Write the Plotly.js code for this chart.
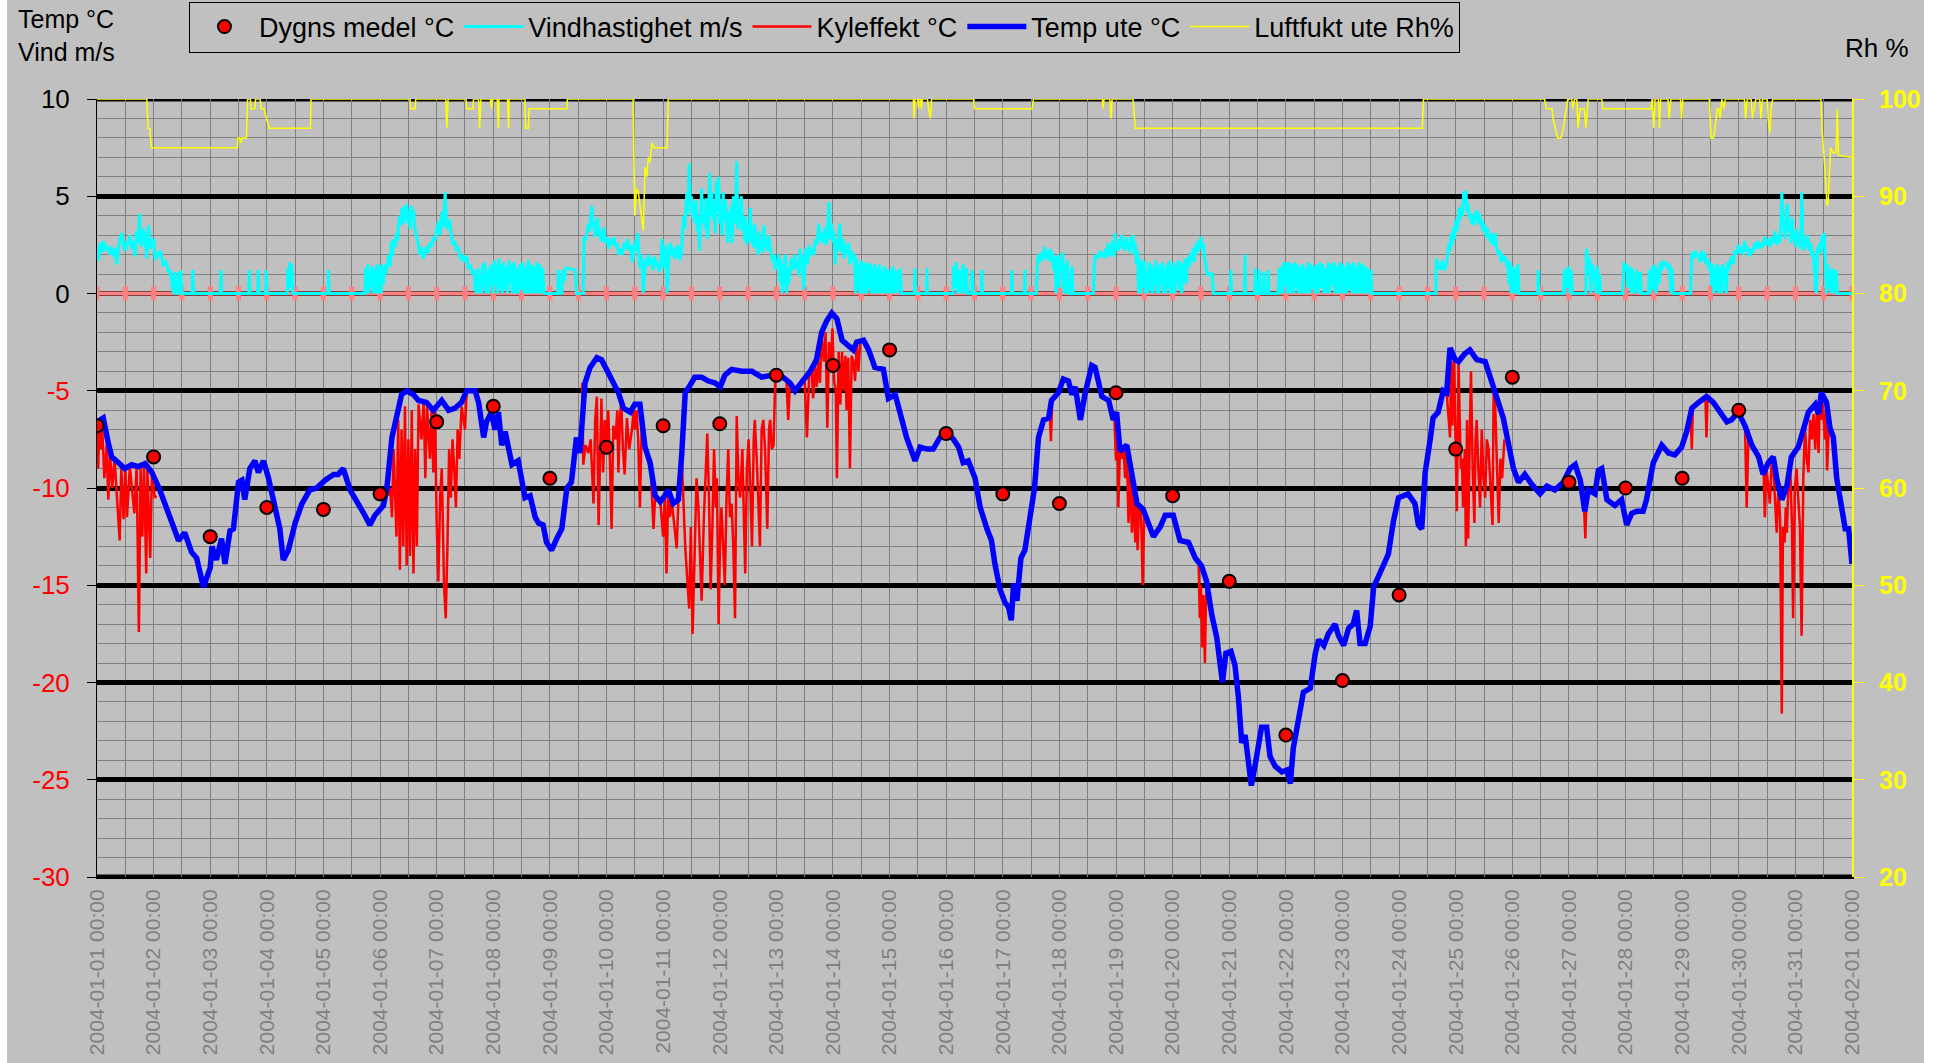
<!DOCTYPE html>
<html>
<head>
<meta charset="utf-8">
<script src="https://cdn.plot.ly/plotly-3.0.1.min.js"></script>
<style>
  html, body { margin: 0; padding: 0; background: #ffffff; }
  #chart { position: absolute; left: 7px; top: 0; width: 1917px; height: 1063px; }
</style>
</head>
<body>
<div id="chart"></div>
<script>
// ---- Data (x values are day offsets from 2004-01-01 00:00) ----
const startDate = '2004-01-01';

// Daily mean temperature, one value per day at 00:00 (Jan 1 .. Jan 30)
const dailyMean = [-6.8, -8.4, -12.5, -11.0, -11.1, -10.3, -6.6, -5.8, -9.5, -7.9,
                   -6.8, -6.7, -4.2, -3.7, -2.9, -7.2, -10.3, -10.8, -5.1, -10.4,
                   -14.8, -22.7, -19.9, -15.5, -8.0, -4.3, -9.7, -10.0, -9.5, -6.0];

// Temp ute °C  [day, value]
const tempPts = [
[0.00,-6.6],[0.11,-6.4],[0.20,-7.7],[0.26,-8.4],[0.38,-8.7],[0.49,-9.0],[0.61,-8.8],[0.73,-8.9],[0.85,-8.75],[0.97,-9.2],
[1.11,-10.1],[1.23,-11.0],[1.35,-12.0],[1.44,-12.7],[1.55,-12.3],[1.67,-13.3],[1.76,-13.6],[1.88,-15.1],[2.00,-14.1],[2.03,-13.0],
[2.11,-13.7],[2.20,-12.6],[2.26,-13.9],[2.35,-12.2],[2.41,-12.1],[2.50,-9.7],[2.56,-9.6],[2.61,-10.6],[2.70,-9.0],[2.79,-8.6],
[2.85,-9.2],[2.94,-8.6],[3.03,-9.5],[3.14,-10.8],[3.23,-12.1],[3.29,-13.7],[3.38,-13.2],[3.50,-11.8],[3.62,-10.8],[3.76,-10.1],
[3.88,-10.0],[4.03,-9.6],[4.18,-9.3],[4.26,-9.3],[4.35,-9.0],[4.47,-10.1],[4.62,-10.8],[4.73,-11.4],[4.82,-11.9],[4.91,-11.4],
[5.06,-10.9],[5.12,-10.0],[5.21,-7.4],[5.29,-6.4],[5.38,-5.2],[5.47,-5.0],[5.59,-5.2],[5.68,-5.5],[5.82,-5.6],[5.94,-6.0],
[6.09,-5.5],[6.21,-6.0],[6.32,-5.9],[6.44,-5.6],[6.53,-5.0],[6.68,-5.0],[6.74,-5.6],[6.83,-7.4],[6.88,-6.6],[6.97,-6.1],
[7.03,-7.0],[7.09,-6.1],[7.15,-7.8],[7.21,-7.1],[7.33,-8.8],[7.44,-8.6],[7.56,-10.5],[7.65,-10.4],[7.74,-11.5],[7.80,-11.8],
[7.88,-11.9],[7.94,-12.8],[8.03,-13.2],[8.12,-12.6],[8.21,-12.1],[8.30,-10.0],[8.38,-9.7],[8.47,-7.4],[8.53,-8.2],[8.62,-4.6],
[8.71,-3.8],[8.83,-3.3],[8.91,-3.4],[9.00,-3.9],[9.12,-4.6],[9.21,-5.1],[9.30,-5.9],[9.42,-6.1],[9.50,-5.7],[9.59,-5.7],
[9.68,-7.9],[9.77,-8.7],[9.86,-10.4],[9.95,-10.7],[10.03,-10.4],[10.09,-10.1],[10.18,-10.8],[10.27,-10.6],[10.33,-8.2],[10.39,-5.1],
[10.48,-4.7],[10.56,-4.3],[10.68,-4.3],[10.80,-4.5],[10.92,-4.6],[11.01,-4.8],[11.09,-4.2],[11.21,-3.9],[11.39,-4.0],[11.57,-4.0],
[11.74,-4.3],[11.92,-4.2],[12.07,-4.2],[12.24,-4.6],[12.33,-5.0],[12.45,-4.6],[12.60,-4.0],[12.71,-3.4],[12.80,-2.0],[12.89,-1.4],
[12.98,-1.0],[13.07,-1.3],[13.16,-2.4],[13.24,-2.6],[13.36,-2.9],[13.42,-2.5],[13.54,-2.4],[13.63,-2.9],[13.74,-3.8],[13.89,-3.9],
[13.98,-5.4],[14.10,-5.2],[14.22,-6.4],[14.30,-7.4],[14.45,-8.6],[14.54,-7.9],[14.66,-8.0],[14.77,-8.0],[14.89,-7.4],[15.01,-7.1],
[15.13,-7.5],[15.22,-7.9],[15.30,-8.7],[15.39,-8.6],[15.51,-9.5],[15.60,-11.0],[15.72,-12.1],[15.80,-12.7],[15.86,-13.9],[15.95,-15.2],
[16.04,-15.9],[16.10,-16.1],[16.15,-16.8],[16.19,-14.9],[16.25,-15.8],[16.32,-13.6],[16.39,-13.2],[16.48,-11.3],[16.56,-10.0],[16.63,-7.4],
[16.72,-6.5],[16.81,-6.4],[16.86,-5.5],[16.98,-5.1],[17.07,-4.4],[17.16,-4.5],[17.22,-5.2],[17.28,-4.8],[17.37,-6.5],[17.45,-5.2],
[17.57,-3.7],[17.63,-3.8],[17.75,-5.3],[17.87,-5.5],[17.95,-6.5],[18.01,-6.1],[18.07,-8.1],[18.19,-7.8],[18.28,-9.3],[18.37,-10.8],
[18.48,-11.1],[18.57,-11.9],[18.66,-12.5],[18.78,-12.0],[18.87,-11.4],[19.01,-11.4],[19.13,-12.7],[19.28,-12.8],[19.40,-13.6],[19.51,-14.0],
[19.60,-14.8],[19.69,-16.5],[19.78,-17.7],[19.88,-20.0],[19.94,-18.5],[20.03,-18.4],[20.10,-19.1],[20.16,-20.7],[20.22,-23.1],[20.28,-22.7],
[20.39,-25.3],[20.46,-24.2],[20.57,-22.3],[20.66,-22.3],[20.72,-23.8],[20.81,-24.3],[20.93,-24.6],[21.02,-24.5],[21.08,-25.2],[21.13,-23.4],
[21.19,-22.4],[21.31,-20.5],[21.43,-20.3],[21.52,-18.5],[21.58,-17.8],[21.67,-18.1],[21.75,-17.5],[21.87,-17.0],[21.93,-17.6],[22.02,-18.1],
[22.11,-17.2],[22.19,-17.0],[22.25,-16.3],[22.31,-18.0],[22.40,-18.0],[22.49,-17.1],[22.55,-15.1],[22.67,-14.4],[22.75,-13.8],[22.81,-13.4],
[22.90,-11.7],[22.99,-10.5],[23.08,-10.4],[23.16,-10.3],[23.28,-10.8],[23.34,-11.9],[23.40,-12.1],[23.46,-9.2],[23.55,-7.5],[23.60,-6.4],
[23.69,-6.1],[23.78,-5.0],[23.84,-5.1],[23.90,-2.8],[23.99,-3.4],[24.05,-3.5],[24.16,-3.1],[24.25,-2.9],[24.37,-3.4],[24.52,-3.5],
[24.61,-4.3],[24.72,-5.3],[24.84,-6.4],[24.93,-7.7],[25.02,-9.0],[25.11,-9.7],[25.22,-9.3],[25.34,-9.8],[25.49,-10.3],[25.61,-9.9],
[25.75,-10.1],[25.90,-9.7],[26.02,-9.0],[26.11,-8.8],[26.20,-9.6],[26.28,-11.2],[26.34,-10.1],[26.46,-10.3],[26.52,-9.1],[26.58,-9.0],
[26.67,-10.6],[26.81,-10.9],[26.93,-10.6],[27.02,-11.9],[27.11,-11.3],[27.20,-11.2],[27.31,-11.2],[27.37,-10.6],[27.49,-8.7],[27.64,-7.8],
[27.76,-8.2],[27.87,-8.3],[27.99,-7.9],[28.08,-7.1],[28.17,-5.9],[28.29,-5.6],[28.43,-5.3],[28.55,-5.6],[28.67,-6.1],[28.79,-6.6],
[28.87,-6.5],[28.99,-6.1],[29.11,-6.8],[29.23,-7.8],[29.35,-8.4],[29.43,-9.3],[29.52,-8.7],[29.61,-8.4],[29.67,-9.5],[29.76,-10.6],
[29.85,-9.9],[29.93,-8.4],[30.05,-7.9],[30.14,-6.9],[30.23,-6.1],[30.35,-5.7],[30.41,-6.2],[30.46,-5.1],[30.55,-5.6],[30.61,-6.9],
[30.67,-7.4],[30.73,-9.5],[30.82,-11.0],[30.88,-12.1],[30.94,-12.1],[31.00,-13.9]
];

// Kyleffekt °C (wind chill) [day, value]; null separates windy stretches
const chillPts = [
[0.00,-6.6],[0.02,-9.0],[0.04,-7.0],[0.07,-8.0],[0.09,-6.8],[0.13,-9.5],[0.17,-7.8],[0.20,-10.6],[0.23,-8.2],[0.27,-10.0],
[0.31,-8.5],[0.40,-12.7],[0.43,-9.0],[0.47,-11.6],[0.50,-9.0],[0.53,-11.5],[0.58,-8.9],[0.66,-11.3],[0.70,-8.9],[0.74,-17.4],
[0.77,-9.0],[0.80,-12.5],[0.83,-8.8],[0.87,-14.4],[0.89,-9.0],[0.94,-13.6],[0.97,-9.3],[1.02,-10.5],[1.05,-10.4],[1.06,null],
[5.15,-10.4],[5.18,-10.0],[5.21,-11.5],[5.24,-8.0],[5.29,-12.5],[5.32,-6.5],[5.35,-14.2],[5.38,-7.0],[5.41,-13.0],[5.44,-5.8],
[5.47,-14.0],[5.50,-7.5],[5.53,-13.5],[5.56,-6.0],[5.59,-14.4],[5.62,-8.0],[5.65,-13.0],[5.68,-5.7],[5.73,-7.5],[5.77,-5.6],
[5.80,-9.5],[5.83,-5.8],[5.88,-8.5],[5.91,-6.0],[5.94,-9.2],[5.97,-6.0],[6.00,-11.8],[6.03,-14.8],[6.06,-10.5],[6.09,-9.0],
[6.13,-15.0],[6.16,-16.7],[6.19,-13.0],[6.22,-8.0],[6.25,-10.5],[6.28,-7.5],[6.31,-9.0],[6.34,-11.0],[6.37,-7.0],[6.40,-8.5],
[6.44,-5.8],[6.50,-7.0],[6.53,-5.0],[6.54,null],
[8.57,-4.6],[8.59,-8.8],[8.63,-7.8],[8.68,-8.2],[8.72,-7.5],[8.77,-10.8],[8.80,-6.5],[8.83,-5.3],[8.86,-11.9],[8.89,-7.0],
[8.91,-5.4],[8.94,-9.2],[8.97,-6.5],[9.00,-7.8],[9.03,-6.0],[9.06,-8.5],[9.09,-12.1],[9.12,-6.8],[9.16,-7.5],[9.19,-6.0],
[9.21,-9.2],[9.24,-6.2],[9.26,-5.6],[9.29,-8.0],[9.32,-9.3],[9.36,-6.4],[9.40,-8.0],[9.45,-7.0],[9.48,-6.0],[9.50,-7.0],
[9.53,-6.0],[9.56,-7.5],[9.59,-11.0],[9.62,-7.0],[9.65,-7.5],[9.70,-8.2],[9.74,-8.7],[9.78,-9.0],[9.83,-12.1],[9.86,-10.4],
[9.95,-10.7],[10.00,-12.5],[10.03,-10.4],[10.06,-14.4],[10.09,-10.2],[10.12,-11.5],[10.15,-10.6],[10.20,-12.0],[10.24,-13.1],[10.27,-10.6],
[10.30,-9.0],[10.33,-8.5],[10.36,-11.0],[10.39,-13.0],[10.42,-14.4],[10.46,-16.2],[10.49,-12.0],[10.52,-17.5],[10.56,-13.0],[10.59,-9.5],
[10.62,-10.8],[10.65,-13.0],[10.68,-15.8],[10.72,-11.5],[10.75,-9.0],[10.78,-7.2],[10.81,-10.5],[10.84,-15.2],[10.87,-12.0],[10.90,-8.0],
[10.93,-11.0],[10.95,-9.5],[10.98,-17.0],[11.01,-12.0],[11.03,-11.0],[11.06,-13.5],[11.09,-15.0],[11.12,-10.5],[11.15,-8.0],[11.18,-11.5],
[11.21,-10.8],[11.24,-13.0],[11.27,-16.7],[11.30,-6.3],[11.33,-9.5],[11.36,-10.5],[11.40,-8.0],[11.43,-12.0],[11.45,-14.4],[11.48,-9.0],
[11.51,-7.5],[11.54,-10.0],[11.57,-13.0],[11.60,-7.5],[11.62,-6.5],[11.66,-9.0],[11.71,-13.0],[11.74,-7.0],[11.77,-6.5],[11.80,-8.0],
[11.84,-12.1],[11.87,-7.0],[11.89,-6.5],[11.92,-8.0],[11.95,-7.8],[11.98,-4.5],[11.99,null],
[12.18,-4.5],[12.21,-6.5],[12.24,-4.6],[12.25,null],
[12.50,-4.4],[12.54,-7.4],[12.58,-4.2],[12.62,-3.8],[12.65,-5.4],[12.68,-3.7],[12.71,-4.8],[12.74,-3.5],[12.77,-4.6],[12.80,-2.1],
[12.84,-3.5],[12.87,-2.0],[12.90,-6.9],[12.93,-2.5],[12.96,-4.0],[12.99,-1.8],[13.02,-4.5],[13.05,-5.0],[13.07,-9.5],[13.10,-3.0],
[13.13,-5.7],[13.16,-3.0],[13.19,-5.0],[13.22,-3.2],[13.24,-6.0],[13.27,-3.3],[13.30,-9.0],[13.33,-3.2],[13.36,-3.5],[13.39,-4.5],
[13.42,-2.6],[13.45,-4.0],[13.48,-2.6],[13.49,null],
[16.83,-6.1],[16.85,-7.6],[16.87,-5.8],[16.88,null],
[17.97,-6.3],[18.00,-8.6],[18.03,-7.5],[18.04,-11.0],[18.07,-8.0],[18.10,-8.5],[18.13,-7.8],[18.16,-9.5],[18.19,-8.0],[18.22,-11.8],
[18.25,-9.0],[18.28,-12.3],[18.31,-10.0],[18.34,-12.8],[18.36,-10.5],[18.38,-13.2],[18.41,-10.8],[18.44,-11.0],[18.47,-15.0],[18.50,-11.2],[18.51,null],
[19.46,-14.0],[19.48,-16.7],[19.50,-15.0],[19.52,-18.2],[19.54,-15.5],[19.57,-19.0],[19.59,-15.5],[19.61,-15.0],[19.62,null],
[23.84,-5.1],[23.88,-6.5],[23.90,-7.4],[23.92,-3.5],[23.94,-6.8],[23.97,-3.4],[24.00,-8.0],[24.02,-11.2],[24.05,-3.5],[24.07,-6.0],
[24.09,-9.0],[24.11,-8.5],[24.13,-11.0],[24.16,-8.0],[24.18,-13.0],[24.20,-6.5],[24.22,-12.6],[24.25,-7.0],[24.27,-4.0],[24.30,-9.0],
[24.33,-11.8],[24.35,-7.5],[24.37,-6.5],[24.40,-9.0],[24.43,-11.0],[24.46,-7.0],[24.49,-9.5],[24.52,-10.5],[24.55,-7.5],[24.58,-8.0],
[24.61,-10.0],[24.65,-11.9],[24.67,-5.0],[24.69,-5.0],[24.72,-8.0],[24.76,-11.8],[24.79,-8.5],[24.82,-9.5],[24.86,-7.5],[24.87,null],
[26.27,-11.2],[26.29,-12.6],[26.31,-10.5],[26.32,null],
[28.15,-6.2],[28.17,-8.0],[28.19,-5.8],[28.20,null],
[28.41,-5.3],[28.43,-7.4],[28.45,-5.3],[28.46,null],
[29.11,-6.8],[29.14,-11.0],[29.17,-7.3],[29.18,null],
[29.44,-9.2],[29.46,-11.5],[29.49,-9.0],[29.55,-10.8],[29.58,-8.6],[29.62,-9.5],[29.67,-12.3],[29.70,-10.0],[29.73,-11.5],[29.76,-21.6],
[29.78,-12.0],[29.81,-12.8],[29.83,-11.0],[29.85,-12.3],[29.88,-9.5],[29.91,-9.0],[29.94,-12.0],[29.96,-16.7],[29.99,-10.0],[30.02,-9.0],
[30.05,-10.5],[30.08,-12.0],[30.11,-17.6],[30.14,-9.5],[30.17,-6.8],[30.20,-8.5],[30.23,-9.2],[30.26,-6.5],[30.29,-7.5],[30.32,-6.2],
[30.35,-8.0],[30.38,-6.0],[30.41,-8.2],[30.43,-5.6],[30.45,-6.5],[30.48,-5.6],[30.52,-7.5],[30.54,-6.0],[30.56,-9.1],[30.59,-6.9]
];

// Vindhastighet m/s [day, value]
const windPts = [
[0,2.4],[0.03,1.7],[0.05,2.6],[0.08,2.1],[0.11,2.7],[0.14,2.2],[0.17,2.5],[0.2,2.3],[0.23,2.0],[0.26,2.4],[0.29,1.9],[0.32,2.3],
[0.35,1.5],[0.38,2.4],[0.41,2.9],[0.44,3.1],[0.47,2.4],[0.5,2.2],[0.53,2.7],[0.55,2.5],[0.58,3.0],[0.61,2.3],[0.64,2.7],[0.67,1.9],
[0.7,3.2],[0.73,2.6],[0.75,4.1],[0.77,2.8],[0.79,2.4],[0.82,3.3],[0.85,2.9],[0.88,1.8],[0.91,3.5],[0.94,2.3],[0.97,2.7],[1.0,2.8],
[1.03,1.7],[1.06,2.1],[1.08,1.9],[1.11,2.2],[1.14,2.0],[1.17,1.4],[1.2,1.7],[1.23,1.5],[1.26,1.1],[1.29,1.2],[1.32,0.6],[1.35,0],
[1.37,1.1],[1.39,0],[1.42,0],[1.44,1.1],[1.46,0],[1.48,1.2],[1.5,0],[1.68,0],[1.69,1.2],[1.71,0],[2.18,0],[2.19,1.2],[2.2,0],
[2.68,0],[2.69,1.2],[2.7,0],[2.84,0],[2.85,1.2],[2.86,0],[2.98,0],[2.99,1.2],[3.0,0],[3.36,0],[3.37,1.3],[3.38,0.2],[3.41,1.6],
[3.43,0.3],[3.44,1.5],[3.46,0],[4.08,0],[4.09,1.2],[4.1,0],[4.73,0],[4.74,1.3],[4.76,0],[4.78,1.5],[4.8,0],[4.82,1.2],[4.84,0.3],
[4.86,1.4],[4.88,0],[4.9,1.3],[4.92,0],[4.95,1.5],[4.97,0],[5.0,1.4],[5.02,0],[5.04,1.5],[5.06,0.5],[5.08,1.5],[5.1,1.0],[5.13,1.6],
[5.16,2.0],[5.18,1.4],[5.2,2.7],[5.22,1.9],[5.24,2.8],[5.27,2.4],[5.29,3.1],[5.31,2.7],[5.33,3.7],[5.35,4.0],[5.37,3.5],[5.39,4.4],
[5.41,3.6],[5.43,4.5],[5.45,3.8],[5.47,4.6],[5.49,3.6],[5.51,4.2],[5.53,3.3],[5.55,4.5],[5.57,3.9],[5.59,4.3],[5.61,3.5],[5.64,3.0],
[5.67,2.6],[5.7,2.0],[5.73,2.4],[5.76,1.8],[5.79,2.0],[5.82,2.4],[5.85,2.1],[5.88,2.6],[5.91,2.4],[5.94,2.9],[5.97,2.7],[6.0,3.3],
[6.03,3.7],[6.06,3.0],[6.09,4.2],[6.12,3.4],[6.15,5.2],[6.17,3.6],[6.2,3.3],[6.23,3.8],[6.26,2.9],[6.29,2.5],[6.32,2.7],[6.35,2.2],
[6.38,2.4],[6.41,1.9],[6.44,1.7],[6.47,2.0],[6.5,1.6],[6.53,1.9],[6.56,1.3],[6.6,1.4],[6.63,1.0],[6.66,1.2],[6.68,0.2],[6.71,0],
[6.73,1.3],[6.75,0],[6.77,1.0],[6.79,0],[6.81,1.5],[6.83,0.3],[6.85,1.6],[6.87,0],[6.9,1.2],[6.92,0],[6.94,1.4],[6.96,0.5],
[6.98,1.5],[7.0,0],[7.02,1.7],[7.04,0.4],[7.06,1.5],[7.08,0],[7.1,1.8],[7.12,0.3],[7.14,1.5],[7.16,0],[7.18,1.6],[7.2,0.2],
[7.23,1.4],[7.25,0],[7.28,1.7],[7.3,0.5],[7.32,1.5],[7.34,0],[7.37,1.6],[7.39,0],[7.42,1.3],[7.44,0],[7.47,1.5],[7.49,0.2],
[7.52,1.6],[7.54,0],[7.57,1.4],[7.59,0],[7.62,1.7],[7.64,0],[7.67,1.5],[7.69,0],[7.72,1.4],[7.74,0],[7.77,1.6],[7.79,0],
[7.82,1.5],[7.84,0],[7.87,1.3],[7.9,0],[8.14,0],[8.15,1.2],[8.16,0],[8.21,0],[8.22,1.2],[8.25,0.6],[8.28,1.3],[8.32,1.3],
[8.45,1.2],[8.47,0],[8.59,0],[8.6,2.9],[8.62,2.7],[8.65,3.0],[8.68,3.6],[8.7,3.2],[8.72,3.8],[8.74,4.5],[8.76,3.4],[8.78,3.7],
[8.8,2.9],[8.82,3.5],[8.84,3.9],[8.86,3.0],[8.88,3.3],[8.9,2.8],[8.92,2.7],[8.95,3.4],[8.98,2.6],[9.01,2.9],[9.04,2.3],[9.07,2.8],
[9.1,2.5],[9.13,2.9],[9.16,2.4],[9.19,2.6],[9.22,2.0],[9.25,2.3],[9.28,2.0],[9.31,2.6],[9.34,2.3],[9.37,2.8],[9.4,2.2],[9.43,2.5],
[9.46,1.6],[9.48,2.0],[9.5,2.7],[9.52,2.2],[9.55,3.1],[9.57,2.2],[9.59,1.3],[9.61,2.0],[9.63,1.6],[9.65,0],[9.67,1.0],[9.7,1.8],
[9.72,1.4],[9.75,2.0],[9.77,1.5],[9.8,1.8],[9.82,1.2],[9.85,1.9],[9.88,1.4],[9.9,1.6],[9.93,1.1],[9.96,1.5],[9.98,2.8],[10.0,1.6],
[10.02,1.3],[10.05,2.5],[10.07,0],[10.1,1.8],[10.13,2.6],[10.15,2.0],[10.18,2.4],[10.2,1.8],[10.23,1.9],[10.26,2.5],[10.29,1.7],
[10.32,2.0],[10.34,3.3],[10.36,4.0],[10.38,3.3],[10.4,4.6],[10.42,5.2],[10.44,4.1],[10.46,6.7],[10.48,4.5],[10.5,5.0],[10.52,3.9],
[10.54,4.6],[10.56,3.6],[10.58,4.8],[10.6,3.2],[10.62,4.0],[10.64,2.2],[10.66,3.5],[10.68,5.4],[10.7,3.6],[10.72,4.2],[10.74,3.3],
[10.76,4.9],[10.78,2.8],[10.8,3.5],[10.82,6.2],[10.84,4.0],[10.86,5.2],[10.88,3.8],[10.9,4.6],[10.92,3.1],[10.94,5.8],[10.96,4.2],
[10.98,6.0],[11.0,3.6],[11.02,4.5],[11.04,3.0],[11.06,5.2],[11.08,3.8],[11.1,4.8],[11.12,3.4],[11.14,2.6],[11.16,4.2],[11.18,3.1],
[11.2,4.5],[11.22,2.6],[11.24,5.0],[11.26,3.6],[11.28,4.2],[11.3,6.8],[11.32,3.3],[11.34,4.6],[11.36,3.5],[11.38,5.0],[11.4,3.2],
[11.42,4.0],[11.44,2.7],[11.46,3.9],[11.48,2.5],[11.5,3.5],[11.52,2.7],[11.54,4.4],[11.56,2.6],[11.58,3.4],[11.6,2.4],[11.62,3.6],
[11.64,2.3],[11.66,3.0],[11.68,2.0],[11.7,3.2],[11.72,2.2],[11.74,2.8],[11.76,2.1],[11.78,3.5],[11.8,2.4],[11.82,2.8],[11.84,2.2],
[11.86,3.0],[11.88,2.6],[11.9,2.2],[11.92,2.0],[11.94,1.6],[11.96,2.0],[11.98,1.2],[12.0,1.7],[12.02,1.4],[12.04,2.0],[12.06,0.6],
[12.08,1.8],[12.1,0],[12.12,1.5],[12.14,0.4],[12.16,2.0],[12.18,0],[12.2,1.3],[12.22,0.5],[12.25,1.5],[12.27,1.8],[12.3,1.2],
[12.33,2.0],[12.35,1.3],[12.38,1.6],[12.4,0.9],[12.42,2.3],[12.44,1.6],[12.46,2.0],[12.48,0.2],[12.5,1.7],[12.52,2.3],[12.55,1.5],
[12.58,2.5],[12.6,1.9],[12.63,2.3],[12.66,2.0],[12.69,2.8],[12.72,2.5],[12.75,3.6],[12.78,2.7],[12.8,3.1],[12.83,2.6],[12.86,3.4],
[12.88,2.5],[12.9,3.1],[12.93,4.7],[12.95,2.8],[12.97,3.6],[13.0,2.6],[13.02,3.2],[13.04,1.5],[13.06,2.8],[13.09,2.2],[13.12,3.6],
[13.15,2.1],[13.18,2.8],[13.2,1.8],[13.23,2.5],[13.26,2.0],[13.28,2.6],[13.3,1.5],[13.33,2.2],[13.36,1.7],[13.38,2.0],[13.4,0],
[13.42,1.8],[13.44,0.2],[13.46,1.5],[13.48,0],[13.5,1.7],[13.52,0],[13.54,1.6],[13.56,0],[13.58,1.5],[13.6,0],[13.62,1.6],
[13.64,0.3],[13.66,1.5],[13.68,0],[13.7,1.4],[13.72,0],[13.74,1.5],[13.76,0],[13.78,1.3],[13.8,0],[13.82,1.5],[13.84,0],
[13.86,1.2],[13.88,0],[13.9,1.4],[13.92,0],[13.95,1.3],[13.97,0],[14.0,1.2],[14.02,0],[14.06,1.4],[14.08,0],[14.12,1.2],[14.14,0],
[14.19,1.3],[14.21,0],[14.44,0],[14.45,1.3],[14.46,0],[14.65,0],[14.66,1.3],[14.67,0],[15.12,0],[15.13,1.4],[15.15,0.3],[15.18,1.6],
[15.2,0],[15.24,1.2],[15.26,0],[15.3,1.5],[15.32,0],[15.36,1.3],[15.38,0],[15.45,0],[15.46,1.2],[15.48,0],[15.62,0],[15.63,1.2],
[15.64,0],[16.15,0],[16.16,1.2],[16.17,0],[16.38,0],[16.39,1.2],[16.4,0],[16.59,0],[16.61,1.5],[16.63,2.0],[16.65,1.6],[16.67,2.1],
[16.7,1.7],[16.72,2.0],[16.74,2.4],[16.76,1.8],[16.78,2.2],[16.8,1.7],[16.82,2.0],[16.84,2.3],[16.86,1.6],[16.88,2.1],[16.9,1.2],
[16.92,1.9],[16.94,0],[16.96,1.5],[16.98,2.0],[17.0,0.3],[17.02,1.8],[17.04,1.2],[17.06,2.1],[17.08,0],[17.1,1.5],[17.12,0],
[17.14,1.7],[17.16,0],[17.2,0],[17.22,1.4],[17.24,0],[17.6,0],[17.62,1.6],[17.64,2.0],[17.66,1.8],[17.69,1.9],[17.72,2.2],
[17.75,1.9],[17.78,2.1],[17.8,1.8],[17.82,2.3],[17.84,2.0],[17.86,2.6],[17.88,1.9],[17.9,2.5],[17.92,2.0],[17.94,2.7],[17.96,1.9],
[17.98,3.1],[18.0,2.2],[18.02,2.6],[18.04,2.2],[18.06,2.8],[18.08,2.4],[18.1,3.0],[18.12,2.3],[18.14,2.7],[18.16,2.2],[18.18,2.9],
[18.2,2.3],[18.22,2.6],[18.24,2.1],[18.26,2.9],[18.28,2.3],[18.3,3.0],[18.32,2.0],[18.34,2.6],[18.36,1.5],[18.38,2.2],[18.4,0],
[18.42,1.8],[18.44,0],[18.46,1.6],[18.48,0.3],[18.5,1.7],[18.52,0],[18.54,1.2],[18.56,0],[18.58,1.6],[18.6,0.2],[18.62,1.5],
[18.64,0],[18.66,1.3],[18.68,0.4],[18.7,1.7],[18.72,0],[18.74,1.4],[18.76,0],[18.78,1.5],[18.8,0.5],[18.82,1.6],[18.84,0],
[18.86,1.3],[18.88,0],[18.9,1.5],[18.92,0.3],[18.94,1.7],[18.96,0],[18.98,1.4],[19.0,0],[19.02,1.6],[19.04,0],[19.06,1.4],
[19.08,0.5],[19.1,1.7],[19.12,0.2],[19.14,1.6],[19.16,0],[19.18,1.5],[19.2,0.6],[19.22,1.8],[19.24,0.5],[19.26,1.5],[19.28,1.9],
[19.3,1.4],[19.32,2.1],[19.34,1.7],[19.36,2.3],[19.38,1.6],[19.4,2.5],[19.42,2.0],[19.44,2.7],[19.46,2.2],[19.48,2.6],[19.5,2.9],
[19.52,2.3],[19.54,2.6],[19.56,1.9],[19.58,1.5],[19.6,1.2],[19.62,0.9],[19.64,1.0],[19.7,1.0],[19.72,0],[20.02,0],[20.03,1.2],
[20.04,0],[20.27,0],[20.28,2.0],[20.29,0],[20.45,0],[20.46,1.3],[20.48,0],[20.52,0],[20.53,1.2],[20.55,0],[20.6,0],[20.61,1.1],
[20.63,0],[20.68,0],[20.69,1.2],[20.7,0],[20.86,0],[20.88,1.3],[20.9,0],[20.92,1.4],[20.94,0],[20.96,1.6],[20.98,0.4],[21.0,1.6],
[21.02,0],[21.04,1.2],[21.06,1.6],[21.08,0],[21.1,1.5],[21.12,1.2],[21.14,0],[21.16,1.6],[21.18,0.3],[21.2,1.5],[21.22,0],
[21.24,1.4],[21.26,1.2],[21.28,0],[21.3,1.5],[21.32,0],[21.35,1.3],[21.37,0],[21.4,1.6],[21.42,0],[21.45,1.5],[21.47,0.2],
[21.5,1.4],[21.52,0],[21.55,1.5],[21.57,0],[21.6,1.6],[21.62,0.3],[21.65,1.5],[21.67,0],[21.7,1.3],[21.72,0],[21.75,1.6],
[21.77,0],[21.8,1.5],[21.82,0.4],[21.85,1.6],[21.87,0],[21.9,1.4],[21.92,0],[21.95,1.6],[21.97,0],[22.0,1.5],[22.02,0],
[22.05,1.4],[22.07,0],[22.1,1.6],[22.12,0.2],[22.15,1.5],[22.17,0],[22.2,1.6],[22.22,0],[22.25,1.4],[22.27,0],[22.3,1.6],
[22.32,0],[22.35,1.5],[22.37,0],[22.4,1.4],[22.42,0],[22.45,1.3],[22.47,0],[22.5,1.2],[22.52,0],[23.65,0],[23.66,1.8],[23.7,1.3],
[23.74,1.3],[23.76,1.7],[23.8,1.2],[23.84,1.6],[23.86,2.0],[23.88,2.6],[23.9,2.2],[23.92,3.1],[23.94,2.5],[23.96,3.4],[23.98,2.8],
[24.0,3.8],[24.02,3.2],[24.04,3.6],[24.06,4.4],[24.08,3.8],[24.1,4.5],[24.12,4.0],[24.14,5.2],[24.16,4.6],[24.18,5.3],[24.2,4.2],
[24.22,4.6],[24.24,3.9],[24.26,4.1],[24.28,3.6],[24.3,4.0],[24.32,3.5],[24.34,4.2],[24.36,3.7],[24.38,4.3],[24.4,3.6],[24.42,4.1],
[24.44,3.5],[24.46,3.8],[24.48,3.2],[24.5,3.6],[24.52,3.1],[24.54,2.9],[24.56,3.4],[24.58,2.8],[24.6,3.0],[24.62,2.6],[24.64,3.1],
[24.66,2.5],[24.68,2.6],[24.7,3.1],[24.72,2.4],[24.75,2.0],[24.78,2.2],[24.8,1.6],[24.82,2.0],[24.85,1.7],[24.88,1.9],[24.9,1.4],
[24.92,1.7],[24.94,0.5],[24.96,1.6],[24.98,0],[25.0,1.4],[25.02,0],[25.05,1.3],[25.07,0],[25.1,1.5],[25.12,0],[25.45,0],[25.46,1.2],
[25.47,0],[25.9,0],[25.92,1.2],[25.93,0],[25.96,1.3],[25.98,0.3],[26.0,1.4],[26.02,0],[26.04,1.2],[26.06,0],[26.3,0],[26.31,2.3],
[26.33,2.0],[26.35,1.0],[26.37,1.8],[26.39,0],[26.42,1.5],[26.44,0.6],[26.46,1.2],[26.48,0],[26.5,1.4],[26.52,0],[26.54,1.0],
[26.56,0],[26.95,0],[26.97,1.6],[27.0,1.2],[27.02,1.5],[27.05,0.3],[27.07,1.4],[27.1,0],[27.12,1.3],[27.15,0],[27.2,1.2],[27.22,0],
[27.26,1.1],[27.28,0],[27.4,0],[27.42,1.2],[27.44,0],[27.47,1.4],[27.49,0.2],[27.52,1.5],[27.54,0],[27.57,1.3],[27.59,0.5],
[27.62,1.6],[27.64,1.2],[27.67,1.7],[27.7,1.4],[27.73,1.6],[27.76,1.2],[27.78,1.5],[27.8,0],[27.82,1.3],[27.84,0],[28.15,0],
[28.17,2.1],[28.2,1.8],[28.23,2.2],[28.26,1.9],[28.29,2.0],[28.31,1.6],[28.34,2.2],[28.37,1.7],[28.4,2.1],[28.42,1.5],[28.45,1.8],
[28.48,1.2],[28.5,1.6],[28.52,0.4],[28.54,1.5],[28.56,0],[28.58,1.3],[28.6,0.2],[28.62,1.5],[28.64,0],[28.67,1.4],[28.7,0],
[28.72,1.5],[28.74,0.6],[28.76,1.3],[28.78,0],[28.8,1.6],[28.82,1.2],[28.85,1.7],[28.88,1.9],[28.9,1.5],[28.93,2.2],[28.96,2.0],
[28.99,2.5],[29.02,2.1],[29.05,2.4],[29.08,2.0],[29.1,2.7],[29.13,2.2],[29.16,2.4],[29.19,1.9],[29.22,2.3],[29.25,2.1],[29.28,2.6],
[29.31,2.3],[29.34,2.7],[29.37,2.3],[29.4,2.6],[29.43,2.4],[29.46,2.9],[29.49,2.5],[29.52,2.8],[29.55,2.4],[29.58,2.9],[29.61,2.6],
[29.64,3.2],[29.67,2.5],[29.7,3.0],[29.72,2.6],[29.74,3.2],[29.76,5.2],[29.78,3.3],[29.8,3.6],[29.82,2.8],[29.84,4.2],[29.86,4.6],
[29.88,3.2],[29.9,3.6],[29.92,2.6],[29.94,3.9],[29.96,2.8],[29.98,3.1],[30.0,2.4],[30.02,3.3],[30.04,2.6],[30.06,3.0],[30.08,2.3],
[30.1,3.4],[30.11,5.2],[30.13,3.0],[30.15,2.2],[30.17,2.8],[30.19,2.4],[30.21,3.0],[30.23,2.6],[30.25,2.2],[30.27,2.6],[30.29,1.9],
[30.31,2.2],[30.33,1.6],[30.35,0.5],[30.37,0],[30.39,2.4],[30.41,2.0],[30.43,2.6],[30.45,2.1],[30.47,3.0],[30.49,2.4],[30.51,3.1],
[30.53,1.7],[30.55,0],[30.57,1.5],[30.59,0.3],[30.61,1.2],[30.63,0],[30.66,1.3],[30.68,0],[30.72,1.2],[30.74,0],[31.0,0]
];

// Luftfukt ute Rh% [day, value]
const rhPts = [
[0,100],[0.88,100],[0.9,97],[0.93,97],[0.96,95],[2.48,95],[2.49,96],[2.52,96],[2.54,95.5],[2.56,96],[2.64,96],[2.66,100],
[2.71,100],[2.72,99],[2.79,99],[2.8,100],[2.88,100],[2.9,99],[2.95,99],[3.04,97],[3.77,97],[3.78,100],[5.53,100],[5.54,99],
[5.62,99],[5.63,100],[6.16,100],[6.18,97],[6.2,100],[6.52,100],[6.53,99],[6.64,99],[6.65,100],[6.74,100],[6.76,97],[6.78,100],
[6.95,100],[6.97,99],[6.98,100],[7.07,100],[7.09,97],[7.1,100],[7.25,100],[7.27,97],[7.28,100],[7.56,100],[7.57,97],[7.62,97],
[7.63,99],[8.3,99],[8.31,100],[9.47,100],[9.5,88],[9.53,90.8],[9.56,90.5],[9.6,88.5],[9.65,86.5],[9.68,93],[9.71,92],[9.74,94],
[9.77,93.5],[9.8,95.5],[9.84,95],[10.07,95],[10.09,100],[14.42,100],[14.43,98],[14.45,100],[14.5,100],[14.51,99],[14.52,100],
[14.55,100],[14.56,99],[14.58,100],[14.67,100],[14.69,99],[14.72,98],[14.74,100],[15.48,100],[15.5,99],[16.52,99],[16.54,100],
[17.76,100],[17.77,99],[17.79,100],[17.89,100],[17.91,98],[17.93,100],[18.3,100],[18.34,97],[23.41,97],[23.43,100],[25.57,100],
[25.6,99],[25.7,99],[25.72,98],[25.8,96],[25.86,96],[25.9,97],[25.98,100],[26.05,100],[26.07,99],[26.1,100],[26.14,100],
[26.16,97],[26.2,99],[26.27,99],[26.3,97],[26.34,100],[26.58,100],[26.6,99],[27.45,99],[27.47,100],[27.5,97],[27.52,100],
[27.58,100],[27.6,97],[27.62,100],[27.75,100],[27.77,98],[27.8,100],[27.97,100],[27.99,98],[28.01,100],[28.48,100],[28.51,96],
[28.55,96],[28.58,97],[28.62,99],[28.65,99],[28.67,98],[28.7,100],[28.74,99],[28.76,100],[29.1,100],[29.12,98],[29.15,100],
[29.22,100],[29.24,98],[29.27,99],[29.3,100],[29.37,100],[29.39,98],[29.42,100],[29.5,100],[29.52,98],[29.55,96.5],[29.57,99],
[29.6,100],[30.45,100],[30.47,97],[30.52,93],[30.56,89],[30.58,89.5],[30.62,95],[30.66,94.5],[30.72,94.5],[30.74,99],[30.76,94.2],
[31.0,94]
];

// Reference series at 0 with a marker every 12 hours (Jan 1 00:00 .. Feb 1 00:00)
const zeroRef = [0,0,0,0,0,0,0,0,0,0,0,0,0,0,0,0,0,0,0,0,0,0,0,0,0,0,0,0,0,0,0,0,
                 0,0,0,0,0,0,0,0,0,0,0,0,0,0,0,0,0,0,0,0,0,0,0,0,0,0,0,0,0,0,0];

const leftTickVals = [-30, -25, -20, -15, -10, -5, 0, 5, 10];

// ---- Build ----
const DAY = 86400000;
const T0 = Date.UTC(2004, 0, 1);
const toX = d => T0 + d * DAY;
const xs = pts => pts.map(p => toX(p[0]));
const ys = pts => pts.map(p => p[1]);

const FONT = 'Liberation Sans, Arial, sans-serif';

const traces = [
  {
    x: zeroRef.map((v, i) => T0 + i * DAY / 2), y: zeroRef,
    mode: 'lines+markers', showlegend: false, hoverinfo: 'skip',
    line: {color: '#FF8080', width: 4},
    marker: {symbol: 'line-ns', size: 10, line: {color: '#FF8080', width: 5}}
  },
  {
    name: 'Vindhastighet m/s', legendrank: 2,
    x: xs(windPts), y: ys(windPts), mode: 'lines',
    line: {color: '#00FFFF', width: 3}
  },
  {
    name: 'Kyleffekt °C', legendrank: 3,
    x: xs(chillPts), y: ys(chillPts), mode: 'lines', connectgaps: false,
    line: {color: '#FF0000', width: 2.5}
  },
  {
    name: 'Temp ute °C', legendrank: 4,
    x: xs(tempPts), y: ys(tempPts), mode: 'lines',
    line: {color: '#0000FF', width: 5.5}
  },
  {
    name: 'Dygns medel °C', legendrank: 1,
    x: dailyMean.map((v, i) => T0 + i * DAY), y: dailyMean, mode: 'markers',
    marker: {color: '#FF0000', size: 13, line: {color: '#000000', width: 2}}
  },
  {
    name: 'Luftfukt ute Rh%', legendrank: 5,
    x: xs(rhPts), y: ys(rhPts), mode: 'lines', yaxis: 'y2',
    line: {color: '#FFFF00', width: 1.5}
  }
];

const layout = {
  width: 1917, height: 1063,
  paper_bgcolor: '#C0C0C0', plot_bgcolor: '#C0C0C0',
  font: {family: FONT, color: '#000000', size: 20},
  margin: {l: 90, r: 72, t: 99, b: 186, autoexpand: false},
  showlegend: true,
  legend: {
    orientation: 'h', x: 0.0524, y: 1.1253, xanchor: 'left', yanchor: 'top',
    font: {family: FONT, size: 27, color: '#000000'},
    bgcolor: 'rgba(0,0,0,0)', bordercolor: '#000000', borderwidth: 1,
    itemwidth: 59, traceorder: 'normal'
  },
  xaxis: {
    type: 'date', range: [toX(0), toX(31)],
    tickmode: 'linear', tick0: startDate, dtick: DAY,
    tickformat: '%Y-%m-%d %H:%M', tickangle: -90,
    tickfont: {family: FONT, size: 21, color: '#808080'},
    showgrid: true, gridcolor: '#808080', gridwidth: 1,
    minor: {tick0: startDate, dtick: DAY / 2, showgrid: true, gridcolor: '#808080', gridwidth: 1},
    showline: true, linecolor: '#000000', linewidth: 2,
    ticks: '', zeroline: false, ticklabelstandoff: 2, fixedrange: true
  },
  yaxis: {
    range: [-30, 10], tickmode: 'array', tickvals: leftTickVals,
    ticktext: leftTickVals.map(v => v < 0 ? '<span style="color:#FF0000">' + v + '</span>' : String(v)),
    tickfont: {family: FONT, size: 26, color: '#000000'},
    showgrid: true, gridcolor: '#000000', gridwidth: 5,
    minor: {tickmode: 'linear', tick0: 0, dtick: 1, showgrid: true, gridcolor: '#808080', gridwidth: 1},
    ticks: 'outside', ticklen: 9, tickcolor: '#000000', tickwidth: 1,
    showline: true, linecolor: '#000000', linewidth: 1,
    zeroline: false, ticklabelstandoff: 12, fixedrange: true
  },
  yaxis2: {
    overlaying: 'y', side: 'right', range: [20, 100],
    tickmode: 'linear', tick0: 20, dtick: 10,
    tickfont: {family: FONT, size: 25, color: '#FFFF00', weight: 'bold'},
    showgrid: false, zeroline: false,
    showline: true, linecolor: '#FFFF00', linewidth: 2,
    ticks: 'outside', ticklen: 10, tickcolor: '#FFFF00', tickwidth: 1,
    ticklabelstandoff: 10, fixedrange: true
  },
  shapes: [
    {type: 'line', layer: 'below', xref: 'paper', yref: 'y', x0: 0, x1: 1, y0: 10, y1: 10, line: {color: '#000000', width: 5}},
    {type: 'line', layer: 'below', xref: 'paper', yref: 'y', x0: 0, x1: 1, y0: -30, y1: -30, line: {color: '#000000', width: 5}}
  ],
  annotations: [
    {text: 'Temp °C<br>Vind m/s', xref: 'paper', yref: 'paper', x: -0.0464, y: 1.1234,
     xanchor: 'left', yanchor: 'top', align: 'left', showarrow: false,
     font: {family: FONT, size: 25, color: '#000000'}},
    {text: 'Rh %', xref: 'paper', yref: 'paper', x: 0.9949, y: 1.0868,
     xanchor: 'left', yanchor: 'top', align: 'left', showarrow: false,
     font: {family: FONT, size: 26, color: '#000000'}}
  ]
};

Plotly.newPlot('chart', traces, layout, {displayModeBar: false, staticPlot: true});
</script>
</body>
</html>
